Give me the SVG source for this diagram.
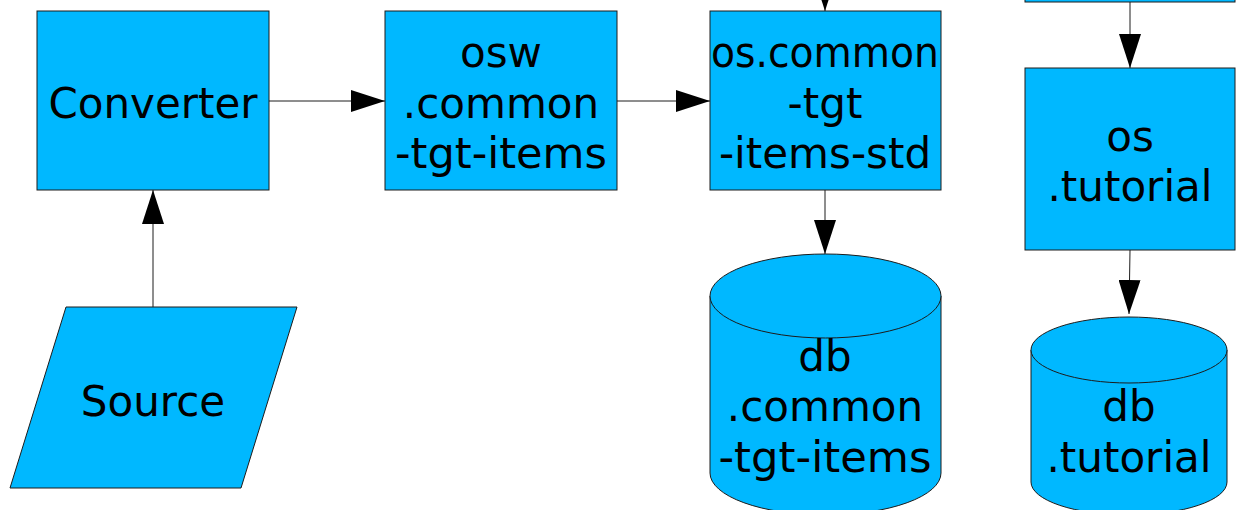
<svg xmlns="http://www.w3.org/2000/svg" width="1246" height="510" viewBox="0 0 1246 510">
<defs>
<style>
.n{fill:#00b8ff;stroke:#1c1c1c;stroke-width:1}
.t{font-family:"DejaVu Sans","Liberation Sans",sans-serif;font-size:42px;fill:#000;text-anchor:middle}
.c{stroke:#1c1c1c;stroke-width:1;fill:none;marker-end:url(#ah)}
</style>
<marker id="ah" markerUnits="userSpaceOnUse" markerWidth="34" markerHeight="22" refX="34" refY="11" orient="auto" viewBox="0 0 34 22">
<path d="M0,0 L34,11 L0,22 z" fill="#000"/>
</marker>
</defs>
<rect width="1246" height="510" fill="#fff"/>
<g id="connectors">
<line class="c" x1="153" y1="307" x2="153" y2="190"/>
<line class="c" x1="269" y1="101" x2="385" y2="101"/>
<line class="c" x1="617" y1="101" x2="710" y2="101"/>
<line class="c" x1="825" y1="-40" x2="825" y2="11"/>
<line class="c" x1="825" y1="190" x2="825" y2="254"/>
<line class="c" x1="1130" y1="2" x2="1130" y2="68"/>
<line class="c" x1="1130" y1="250" x2="1129" y2="314"/>
</g>
<g id="top-box"><rect class="n" x="1025" y="-60" width="210" height="62"/></g>
<g id="converter">
<rect class="n" x="37" y="11" width="232" height="179"/>
<text class="t" x="153" y="118">Converter</text>
</g>
<g id="source">
<polygon class="n" points="66,307 297,307 241,488 10,488"/>
<text class="t" x="153" y="416">Source</text>
</g>
<g id="osw">
<rect class="n" x="385" y="11" width="232" height="179"/>
<text class="t" x="501" y="67">osw</text>
<text class="t" x="501" y="118">.common</text>
<text class="t" x="501" y="168" textLength="212" lengthAdjust="spacingAndGlyphs">-tgt-items</text>
</g>
<g id="os-common">
<rect class="n" x="710" y="11" width="231" height="179"/>
<text class="t" x="825" y="67" textLength="228" lengthAdjust="spacingAndGlyphs">os.common</text>
<text class="t" x="825" y="118">-tgt</text>
<text class="t" x="825" y="168">-items-std</text>
</g>
<g id="os-tutorial">
<rect class="n" x="1025" y="68" width="210" height="182"/>
<text class="t" x="1130" y="151">os</text>
<text class="t" x="1130" y="201">.tutorial</text>
</g>
<g id="db-common">
<path class="n" d="M710,296 L710,473 A115.5,42 0 0 0 941,473 L941,296 A115.5,42 0 0 0 710,296 Z"/>
<path class="n" d="M710,296 A115.5,42 0 0 0 941,296"/>
<text class="t" x="825" y="371">db</text>
<text class="t" x="825" y="421">.common</text>
<text class="t" x="825" y="472" textLength="213" lengthAdjust="spacingAndGlyphs">-tgt-items</text>
</g>
<g id="db-tutorial">
<path class="n" d="M1031,350 L1031,482 A98,33 0 0 0 1227,482 L1227,350 A98,33 0 0 0 1031,350 Z"/>
<path class="n" d="M1031,350 A98,33 0 0 0 1227,350"/>
<text class="t" x="1129" y="421">db</text>
<text class="t" x="1129" y="472">.tutorial</text>
</g>
</svg>
